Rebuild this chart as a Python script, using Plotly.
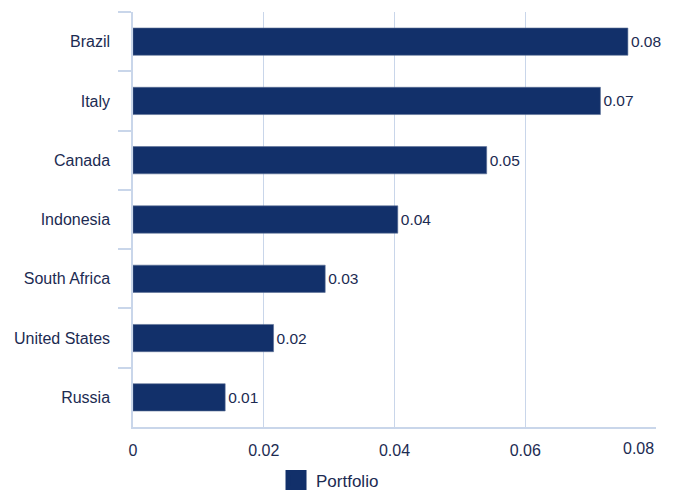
import plotly.graph_objects as go

# Country exposure of the portfolio (weights)
countries = ["Brazil", "Italy", "Canada", "Indonesia", "South Africa", "United States", "Russia"]
weights = [0.0757, 0.0715, 0.0541, 0.0405, 0.0294, 0.0215, 0.0141]
x_ticks = [0, 0.02, 0.04, 0.06, 0.08]
x_tick_text = ["0", "0.02", "0.04", "0.06", "0.08"]
series_name = "Portfolio"

navy = "#12306a"
text_color = "#1c2b52"
grid_color = "#c9d6ea"
font_family = "Liberation Sans, Arial, sans-serif"

fig = go.Figure()
fig.add_trace(go.Bar(
    name=series_name,
    y=countries,
    x=weights,
    orientation="h",
    marker=dict(color=navy, line=dict(color="#5a6f96", width=0.6)),
    width=0.46,
    text=weights,
    texttemplate="%{x:.2f}",
    textposition="outside",
    textfont=dict(size=15.5, color=text_color, family=font_family),
    cliponaxis=False,
    showlegend=False,
    legendgroup="portfolio",
))

# Legend entry with a larger square swatch
fig.add_trace(go.Scatter(
    name=series_name,
    x=[None],
    y=[None],
    mode="markers",
    marker=dict(symbol="square", size=16, color=navy, line=dict(color=navy, width=5)),
    legendgroup="portfolio",
    showlegend=True,
    hoverinfo="skip",
))

# The last tick label is right-aligned to the plot edge so it stays inside
tick_labels_drawn = x_tick_text[:-1] + [""]
fig.add_annotation(
    x=x_ticks[-1], xref="x",
    y=0, yref="paper",
    text=x_tick_text[-1],
    showarrow=False,
    xanchor="right", yanchor="top",
    yshift=-11,
    font=dict(size=16, color=text_color, family=font_family),
)

fig.update_layout(
    width=677,
    height=490,
    margin=dict(l=133, r=21, t=12, b=63, autoexpand=False),
    paper_bgcolor="white",
    plot_bgcolor="white",
    font=dict(family=font_family, size=16, color=text_color),
    bargap=0.54,
    legend=dict(
        orientation="h",
        xref="container",
        x=0.4077, xanchor="left",
        yref="paper",
        y=-0.13, yanchor="middle",
        font=dict(size=17, color=text_color),
    ),
    xaxis=dict(
        range=[0, 0.08],
        tickvals=x_ticks,
        ticktext=tick_labels_drawn,
        showgrid=True,
        gridcolor=grid_color,
        gridwidth=1,
        showline=True,
        linecolor=grid_color,
        linewidth=1.5,
        zeroline=False,
        ticks="",
        ticklabelstandoff=8,
        tickfont=dict(size=16, color=text_color),
    ),
    yaxis=dict(
        categoryorder="array",
        categoryarray=countries,
        autorange="reversed",
        showline=True,
        linecolor=grid_color,
        linewidth=1.5,
        showgrid=False,
        ticks="outside",
        tickson="boundaries",
        ticklen=13,
        tickcolor=grid_color,
        tickwidth=1.5,
        ticklabelstandoff=18,
        tickfont=dict(size=16, color=text_color),
    ),
)

fig.write_html("out.html")
